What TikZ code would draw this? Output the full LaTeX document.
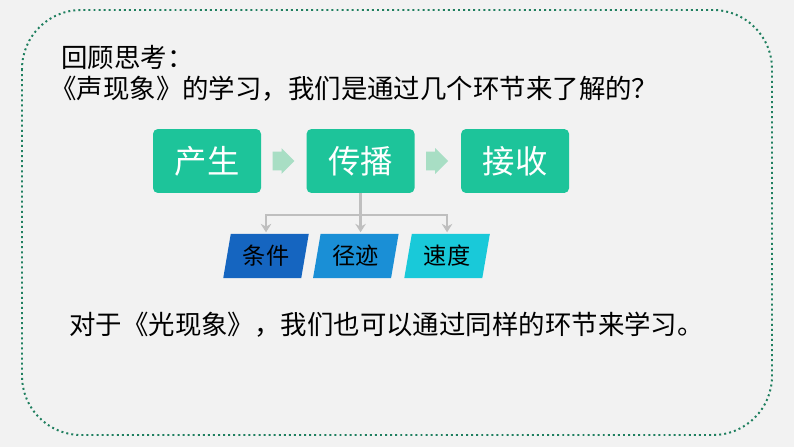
\documentclass[tikz,border=0pt]{standalone}
\usepackage{fontspec}
\setmainfont{Noto Sans CJK SC}
\usetikzlibrary{positioning,shapes.arrows,shapes.geometric,arrows.meta}
\definecolor{bggray}{HTML}{F2F2F2}
\definecolor{framegreen}{HTML}{1F7F5F}
\definecolor{stagegreen}{HTML}{1DC49A}
\definecolor{arrowgreen}{HTML}{A8DEC4}
\definecolor{linegray}{HTML}{BFBFBF}
\definecolor{blueA}{HTML}{1565C0}
\definecolor{blueB}{HTML}{1A8FD6}
\definecolor{blueC}{HTML}{19C9D9}

\begin{document}
\begin{tikzpicture}[x=0.025cm, y=-0.025cm, node distance=32pt,
  frame/.style = {draw=framegreen, line width=1.4pt, dash pattern=on 1.4pt off 2.2pt, rounded corners=42pt},
  txt/.style = {anchor=west, inner sep=0pt, font=\fontsize{18.8pt}{22pt}\selectfont},
  stage/.style = {fill=stagegreen, rounded corners=3.5pt, minimum width=76.8pt, minimum height=45.5pt, text=white, font=\fontsize{23pt}{27pt}\selectfont},
  flow/.style = {single arrow, fill=arrowgreen, minimum height=15.6pt, inner xsep=0pt, inner ysep=6.4pt, single arrow head extend=2.5pt, single arrow head indent=0pt, font=\fontsize{1pt}{1pt}\selectfont},
  facet/.style = {trapezium, trapezium left angle=77, trapezium right angle=103, trapezium stretches=true, minimum width=61pt, minimum height=31.3pt, inner sep=0pt, font=\fontsize{16.5pt}{19pt}\selectfont},
  branch/.style = {draw=linegray, line width=1.6pt, shorten >=1pt, -{Stealth[length=6pt,width=7.5pt]}}]
		\fill[bggray] (0,0) rectangle (794,447);
		\useasboundingbox (0,0) rectangle (794,447);
		\draw[frame] (22,10) rectangle (772,435);
		% question
		\node[txt] (recall) at (61,57) {回顾思考：};
		\node[txt] (question) at (50,89) {《声现象》的学习，我们是通过几个环节来了解的？};
		% three stages
		\node[stage] (gen) at (207,161) {产生};
		\node[flow] (flowA) [right=7.8pt of gen] {};
		\node[stage] (prop) [right=32pt of gen] {传播};
		\node[flow] (flowB) [right=7.8pt of prop] {};
		\node[stage] (recv) [right=32.7pt of prop] {接收};
		% what travels
		\node[facet, fill=blueA] (cond) at (266,256) {条件};
		\node[facet, fill=blueB] (path) [right=8pt of cond] {径迹};
		\node[facet, fill=blueC] (speed) [right=9pt of path] {速度};
		\coordinate[below=15.6pt of prop] (split);
		\draw[branch] (prop.south) -- (split) -| (cond.north);
		\draw[branch] (split) -| (speed.north);
		\draw[branch] (prop.south) -- (prop.south |- path.north);
		% answer
		\node[txt] (summary) at (69,325) {对于《光现象》，我们也可以通过同样的环节来学习。};
	\end{tikzpicture}
\end{document}
